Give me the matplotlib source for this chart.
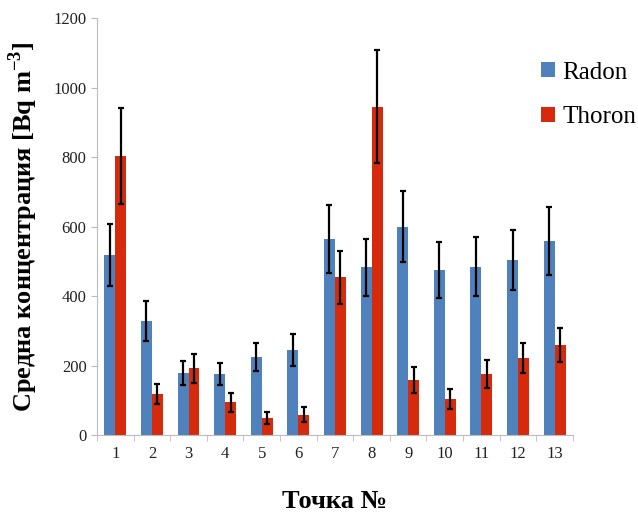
import matplotlib.pyplot as plt
import numpy as np

plt.rcParams['font.family'] = ['Liberation Serif', 'DejaVu Serif']
plt.rcParams['mathtext.fontset'] = 'custom'
plt.rcParams['mathtext.rm'] = 'Liberation Serif'
plt.rcParams['mathtext.bf'] = 'Liberation Serif:bold'

points = ['1', '2', '3', '4', '5', '6', '7', '8', '9', '10', '11', '12', '13']
radon = [518, 329, 179, 176, 225, 245, 564, 483, 600, 475, 485, 504, 558]
radon_err = [89, 57, 34, 31, 40, 45, 98, 82, 103, 81, 84, 86, 97]
thoron = [804, 117, 192, 94, 48, 58, 454, 945, 158, 104, 175, 221, 260]
thoron_err = [138, 29, 41, 28, 17, 22, 77, 163, 37, 28, 41, 43, 49]

fig = plt.figure(figsize=(6.38, 5.2), dpi=100)
ax = fig.add_axes([0.152, 0.1635, 0.746, 0.8015])

x = np.arange(len(points))
w = 0.3
err_kw = dict(ecolor='black', elinewidth=1.6, capsize=2.2, capthick=1.6)
ax.bar(x - w / 2, radon, w, yerr=radon_err, color='#4F81BD', label='Radon', error_kw=err_kw)
ax.bar(x + w / 2, thoron, w, yerr=thoron_err, color='#D52B0C', label='Thoron', error_kw=err_kw)

ax.set_xlim(-0.5, 12.5)
ax.set_ylim(0, 1200)
ax.set_yticks(range(0, 1201, 200))
ax.set_xticks(x)
ax.set_xticklabels(points)
ax.set_xticks(np.arange(-0.5, 12.6, 1), minor=True)
ax.tick_params(axis='x', which='major', length=0, labelsize=12, pad=8, colors='#222222')
ax.tick_params(axis='x', which='minor', length=4, color='#bbbbbb')
ax.tick_params(axis='y', length=4, color='#bbbbbb', labelsize=12, labelcolor='#222222')

for s in ['top', 'right']:
    ax.spines[s].set_visible(False)
ax.spines['left'].set_color('#bbbbbb')
ax.spines['bottom'].set_color('#bbbbbb')

ax.set_ylabel('Средна концентрация [Bq m$^{\\mathregular{-3}}$]', fontsize=19,
              fontweight='bold', labelpad=10)
ax.set_xlabel('Точка №', fontsize=19, fontweight='bold', labelpad=20)

ax.legend(loc='upper right', bbox_to_anchor=(1.18, 0.95), frameon=False, fontsize=18,
          handlelength=0.55, handleheight=0.55, handletextpad=0.3, labelspacing=0.9)

fig.savefig('out.png', dpi=100)
